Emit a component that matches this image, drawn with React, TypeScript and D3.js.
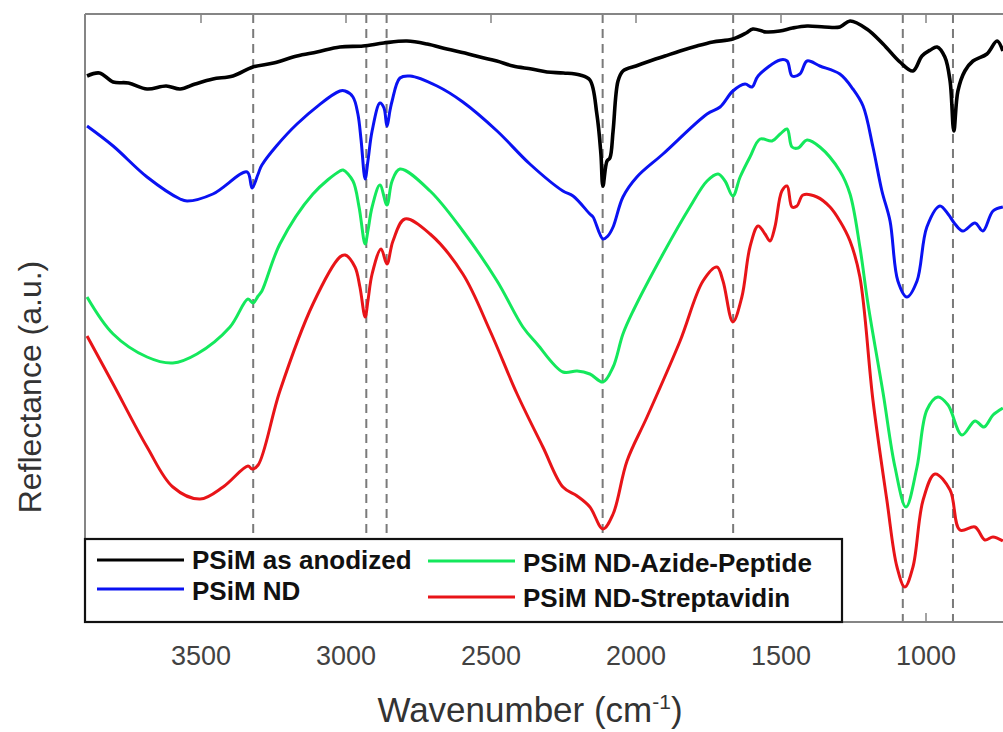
import React from 'react';
import * as d3 from 'd3';

// ---- data (wavenumber in cm-1, reflectance in a.u.) ----
const xTicks = [3500, 3000, 2500, 2000, 1500, 1000];
const peakLines = [3320, 2930, 2860, 2115, 1665, 1080, 907];
const seriesNames = ['PSiM as anodized', 'PSiM ND', 'PSiM ND-Azide-Peptide', 'PSiM ND-Streptavidin'];
const seriesColors = ['#000000', '#0a12f2', '#14e85c', '#e81418'];

const anodized: [number, number][] = [
  [3893, 54.6], [3850, 54.9], [3803, 54.0], [3750, 53.9], [3686, 53.3], [3620, 53.6], [3572, 53.3], [3520, 53.8], [3459, 54.3],
  [3390, 54.6], [3321, 55.5], [3250, 55.9], [3169, 56.6], [3100, 57.0], [3021, 57.5], [2941, 57.6], [2870, 57.9], [2790, 58.1],
  [2720, 57.8], [2652, 57.3], [2590, 56.9], [2538, 56.5], [2480, 56.1], [2424, 55.6], [2360, 55.3], [2307, 55.0], [2250, 54.9],
  [2193, 54.7], [2159, 54.2], [2135, 50.8], [2121, 46.8], [2114, 43.6], [2100, 46.1], [2090, 46.4], [2079, 49.1],
  [2062, 54.1], [2045, 55.1], [2000, 55.6], [1962, 56.0], [1900, 56.6], [1848, 57.1], [1790, 57.6], [1735, 58.0], [1666, 58.3],
  [1620, 58.9], [1597, 59.3], [1550, 59.0], [1504, 59.1], [1460, 59.4], [1410, 59.6], [1350, 59.5], [1297, 59.5], [1262, 60.1],
  [1204, 59.3], [1148, 57.8], [1090, 56.0], [1045, 55.1], [1014, 56.6], [985, 57.2], [962, 57.5], [935, 56.5], [917, 54.1],
  [904, 49.1], [890, 53.1], [866, 55.1], [838, 56.1], [790, 56.8], [755, 58.1], [735, 57.1],
];

const nd: [number, number][] = [
  [3893, 49.6], [3803, 47.6], [3686, 44.5], [3572, 42.3], [3548, 42.1], [3459, 42.8], [3341, 45.0], [3324, 43.4], [3303, 44.8],
  [3290, 45.7], [3169, 49.8], [3021, 53.1], [3003, 53.1], [2976, 52.5], [2959, 50.8], [2948, 48.2], [2934, 44.3], [2924, 46.2],
  [2910, 49.1], [2883, 51.9], [2869, 51.4], [2859, 49.6], [2848, 51.2], [2841, 52.1], [2814, 54.4], [2779, 54.6], [2686, 53.6],
  [2597, 52.0], [2479, 49.1], [2366, 45.8], [2252, 43.1], [2217, 42.6], [2159, 40.8], [2148, 40.5], [2114, 38.3], [2097, 38.6],
  [2079, 39.5], [2045, 42.5], [1997, 44.5], [1907, 46.8], [1755, 50.8], [1710, 51.5], [1666, 53.1], [1624, 53.8], [1600, 53.5],
  [1579, 54.6], [1503, 56.2], [1479, 56.1], [1462, 54.6], [1435, 54.8], [1410, 56.1], [1366, 55.6], [1297, 54.8], [1252, 53.3],
  [1217, 51.6], [1183, 47.5], [1152, 43.1], [1124, 40.1], [1097, 34.1], [1066, 32.5], [1031, 34.1], [997, 39.5], [952, 41.6],
  [924, 40.8], [900, 39.8], [873, 39.1], [831, 39.9], [804, 39.1], [769, 41.1], [735, 41.5],
];

const azidePeptide: [number, number][] = [
  [3893, 32.5], [3803, 28.8], [3686, 26.5], [3597, 25.9], [3514, 26.8], [3400, 29.5], [3338, 32.3], [3321, 31.9], [3303, 32.6],
  [3290, 33.1], [3228, 37.8], [3114, 42.8], [3021, 45.1], [3010, 45.2], [2976, 44.1], [2955, 41.5], [2934, 37.8], [2924, 39.2],
  [2910, 41.5], [2883, 43.7], [2859, 41.7], [2841, 44.1], [2814, 45.3], [2710, 43.1], [2597, 39.1], [2479, 34.1], [2390, 29.5],
  [2341, 27.8], [2252, 25.0], [2203, 25.1], [2159, 24.8], [2114, 24.0], [2079, 25.5], [2045, 28.8], [2010, 31.1], [1907, 36.8],
  [1814, 41.5], [1755, 44.1], [1717, 44.8], [1693, 44.1], [1666, 42.6], [1641, 44.5], [1607, 46.5], [1572, 48.3], [1531, 48.1],
  [1503, 48.8], [1479, 49.3], [1462, 47.5], [1441, 47.4], [1410, 48.2], [1366, 47.5], [1297, 45.1], [1262, 42.8], [1228, 37.5],
  [1200, 31.8], [1148, 22.9], [1107, 15.5], [1069, 11.5], [1031, 15.5], [997, 21.2], [959, 22.5], [924, 21.7], [876, 18.7],
  [831, 20.1], [800, 19.5], [769, 20.7], [735, 21.4],
];

const streptavidin: [number, number][] = [
  [3893, 28.6], [3803, 23.8], [3686, 17.5], [3597, 13.5], [3503, 12.3], [3424, 13.5], [3338, 15.6], [3324, 15.3], [3303, 15.7],
  [3228, 23.1], [3114, 31.8], [3021, 36.5], [3003, 36.7], [2969, 35.5], [2952, 33.5], [2934, 30.5], [2924, 32.2], [2910, 34.8],
  [2879, 37.3], [2859, 35.8], [2838, 38.1], [2797, 40.3], [2710, 38.8], [2597, 34.8], [2503, 29.1], [2410, 22.8], [2321, 17.5],
  [2252, 13.5], [2203, 12.6], [2159, 11.5], [2114, 9.3], [2079, 10.8], [2031, 16.1], [1962, 20.5], [1848, 28.1], [1769, 34.1],
  [1721, 35.5], [1700, 34.1], [1666, 30.0], [1635, 32.5], [1607, 37.5], [1579, 39.6], [1555, 38.8], [1538, 38.1], [1521, 39.5],
  [1497, 43.1], [1479, 43.6], [1462, 41.5], [1445, 41.6], [1424, 42.7], [1376, 42.5], [1331, 41.5], [1297, 40.1], [1262, 38.1],
  [1228, 34.5], [1183, 22.2], [1135, 12.2], [1100, 5.5], [1073, 3.5], [1045, 5.5], [1010, 12.2], [969, 14.8], [917, 13.2],
  [883, 9.2], [831, 9.5], [797, 8.2], [769, 8.5], [735, 8.1],
];

const allSeries = [anodized, nd, azidePeptide, streptavidin];

// ---- layout ----
const W = 1003;
const H = 732;
const left = 85;
const top = 14;
const bottom = 622;
const right = 1013;

export default function App() {
  const x = d3.scaleLinear().domain([3900, 700]).range([left, right]);
  const y = d3.scaleLinear().domain([0, 60.8]).range([bottom, top]);
  const line = d3
    .line<[number, number]>()
    .x((d) => x(d[0]))
    .y((d) => y(d[1]))
    .curve(d3.curveCatmullRom.alpha(0.5));

  const font = 'Arial, "Liberation Sans", Helvetica, sans-serif';
  const frame = '#858585';

  const legendItems = [
    { i: 0, lx: 97, ly: 560, tx: 192, ty: 569 },
    { i: 1, lx: 97, ly: 589, tx: 192, ty: 600 },
    { i: 2, lx: 428, ly: 561, tx: 523, ty: 572 },
    { i: 3, lx: 428, ly: 597, tx: 523, ty: 607 },
  ];

  return (
    <svg
      width={W}
      height={H}
      viewBox={`0 0 ${W} ${H}`}
      style={{ position: 'absolute', left: 0, top: 0, background: '#fff' }}
      fontFamily={font}
    >
      <defs>
        <clipPath id="plotClip">
          <rect x={left} y={top} width={right - left} height={bottom - top} />
        </clipPath>
      </defs>
      <rect x={0} y={0} width={W} height={H} fill="#fff" />

      {/* peak guide lines */}
      <g clipPath="url(#plotClip)">
        {peakLines.map((p) => (
          <line
            key={p}
            x1={x(p)}
            x2={x(p)}
            y1={top}
            y2={bottom}
            stroke="#7a7a7a"
            strokeWidth={2}
            strokeDasharray="9,6"
          />
        ))}
      </g>

      {/* spectra */}
      <g clipPath="url(#plotClip)">
        {allSeries.map((s, i) => (
          <path
            key={i}
            d={line(s) || ''}
            fill="none"
            stroke={seriesColors[i]}
            strokeWidth={i === 0 ? 3.6 : 3}
            strokeLinejoin="round"
          />
        ))}
      </g>

      {/* frame */}
      <line x1={left} x2={W} y1={top} y2={top} stroke={frame} strokeWidth={2} />
      <line x1={left} x2={left} y1={top} y2={bottom} stroke={frame} strokeWidth={2} />
      <line x1={left} x2={W} y1={bottom} y2={bottom} stroke={frame} strokeWidth={2} />

      {/* ticks */}
      {xTicks.map((t) => (
        <g key={t}>
          <line x1={x(t)} x2={x(t)} y1={top} y2={top + 9} stroke={frame} strokeWidth={1.5} />
          <line x1={x(t)} x2={x(t)} y1={bottom} y2={bottom - 9} stroke={frame} strokeWidth={1.5} />
          <text x={x(t)} y={665} textAnchor="middle" fontSize={27} fill="#424242">
            {t}
          </text>
        </g>
      ))}

      {/* legend */}
      <rect x={left} y={539} width={842 - left} height={bottom - 539} fill="#fff" stroke="#111" strokeWidth={2.2} />
      {legendItems.map((it) => (
        <g key={it.i}>
          <line x1={it.lx} x2={it.lx + 87} y1={it.ly} y2={it.ly} stroke={seriesColors[it.i]} strokeWidth={3} />
          <text x={it.tx} y={it.ty} fontSize={26} fontWeight="bold" fill="#111">
            {seriesNames[it.i]}
          </text>
        </g>
      ))}

      {/* axis labels */}
      <text x={530} y={722} textAnchor="middle" fontSize={35} fill="#333">
        Wavenumber (cm
        <tspan dy={-13} fontSize={21}>
          -1
        </tspan>
        <tspan dy={13}>)</tspan>
      </text>
      <text
        transform={`translate(41, 387) rotate(-90)`}
        textAnchor="middle"
        fontSize={32}
        fill="#333"
      >
        Reflectance (a.u.)
      </text>
    </svg>
  );
}
